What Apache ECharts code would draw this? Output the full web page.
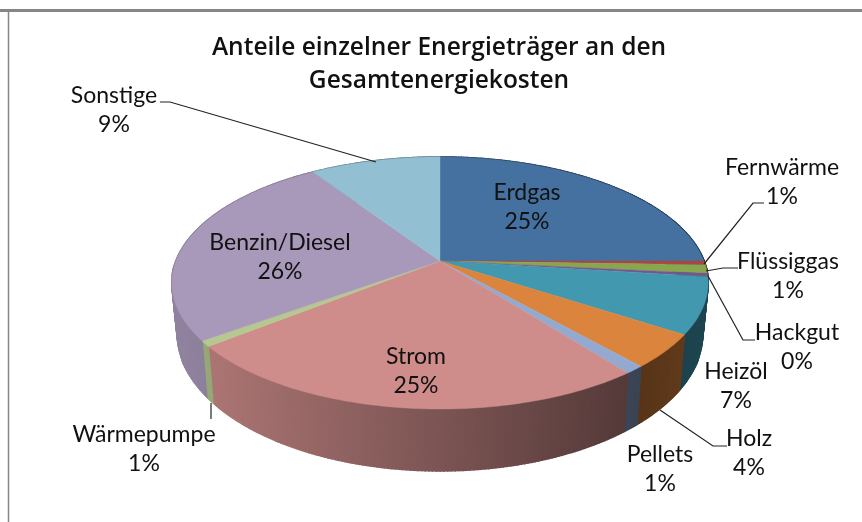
<!DOCTYPE html>
<html><head><meta charset="utf-8">
<style>html,body{margin:0;padding:0;background:#fff}#c{width:862px;height:522px}</style>
<script src="https://cdn.jsdelivr.net/npm/echarts@6/dist/echarts.min.js"></script>
</head><body><div id="c"></div>
<script>
// Data
const titleLines = ['Anteile einzelner Energieträger an den', 'Gesamtenergiekosten'];
const categories = ['Erdgas','Fernwärme','Flüssiggas','Hackgut','Heizöl','Holz','Pellets','Strom','Wärmepumpe','Benzin/Diesel','Sonstige'];
const shares = [25.0, 0.5, 1.1, 0.4, 7.2, 4.3, 1.0, 24.8, 0.7, 25.7, 9.3];
const colors = ['#44719f','#aa4643','#89a54e','#71588f','#4198af','#db843d','#93a9cf','#ce8d8b','#b4c88f','#a898b9','#92c0d2'];

// Layout (perspective pie projection and label placement)
const P = {cx:440, cy:261, R:264, K:122.2, p:0.1746, bx:0.98, by:1.09, bh:48.5};
const labelPos = [[527,207],[782,182],[788,276],[797,347],[736,386],[749,453],[660,469],[416,371],[144,449],[280,257],[114,110]];
const leaders = [
  [[160,102],[170,102],[376,162]],
  [[704,264],[753,203],[764,203]],
  [[706,271],[723,268],[738,268]],
  [[708,276],[743,340],[755,340]],
  [[660,410],[713,446],[727,446]],
  [[211,403],[211,419]]
];
const FONT = 'Lato';
const SIZE = 23;

function rim(theta){
  const c = Math.cos(theta), s = Math.sin(theta), k = 1/(1+P.p*c);
  return [P.cx + P.R*s*k, P.cy - P.K*c*k];
}
function lower(pt){
  return [P.cx + P.bx*(pt[0]-P.cx), P.cy + P.by*(pt[1]-P.cy) + P.bh];
}
function shade(hex, x){
  const t = Math.min(1, Math.max(0, (x-180)/460));
  const f = x > 640 ? 0.40 + (x-640)/65*0.06 : 0.86 - 0.46*t;
  const n = parseInt(hex.slice(1),16);
  const ch = [n>>16&255, n>>8&255, n&255].map(v=>Math.round(v*f));
  return 'rgb('+ch.join(',')+')';
}
const total = shares.reduce((a,b)=>a+b,0);
const starts = shares.map((_,i)=>shares.slice(0,i).reduce((a,b)=>a+b,0));
function arc(i){
  const a0 = starts[i]/total*2*Math.PI, a1 = (starts[i]+shares[i])/total*2*Math.PI;
  const n = Math.max(2, Math.ceil((a1-a0)/0.012));
  const pts = [];
  for(let k=0;k<=n;k++) pts.push(rim(a0+(a1-a0)*k/n));
  return pts;
}
function renderWall(params, api){
  const i = api.value(0), pts = arc(i), children = [];
  for(let k=0;k<pts.length-1;k++){
    const a=pts[k], b=pts[k+1], col=shade(colors[i],(a[0]+b[0])/2);
    children.push({type:'polygon',shape:{points:[a,b,lower(b),lower(a)]},style:{fill:col,stroke:col,lineWidth:1.6}});
  }
  return {type:'group',children};
}
function renderTop(params, api){
  const i = api.value(0), pts = arc(i);
  return {type:'polygon',shape:{points:[[P.cx,P.cy]].concat(pts)},style:{fill:colors[i],stroke:colors[i],lineWidth:0.4}};
}
const seriesData = shares.map((v,i)=>[i,v]);
const graphics = [
  {type:'line',shape:{x1:0,y1:10.5,x2:862,y2:10.5},style:{stroke:'#868686',lineWidth:3},z:1},
  {type:'line',shape:{x1:8.5,y1:9,x2:8.5,y2:522},style:{stroke:'#868686',lineWidth:1.5},z:1}
];
titleLines.forEach((t,i)=>graphics.push({type:'text',x:439,y:48+i*33,z:5,
  style:{text:t,font:'600 24.5px "Open Sans"',fill:'#111',align:'center',verticalAlign:'middle'}}));
leaders.forEach(l=>graphics.push({type:'polyline',z:4,shape:{points:l},style:{stroke:'#222',lineWidth:1.2,fill:null}}));
categories.forEach((c,i)=>graphics.push({type:'text',x:labelPos[i][0],y:labelPos[i][1],z:6,
  style:{text:c+'\n'+Math.round(shares[i])+'%',font:SIZE+'px '+FONT,fill:'#111',align:'center',verticalAlign:'middle',lineHeight:29}}));

const chart = echarts.init(document.getElementById('c'),null,{renderer:'canvas'});
chart.setOption({
  animation:false,
  backgroundColor:'#fff',
  graphic:graphics,
  series:[
    {type:'custom',coordinateSystem:'none',name:'walls',z:2,silent:true,data:seriesData,renderItem:renderWall},
    {type:'custom',coordinateSystem:'none',name:'tops',z:3,silent:true,data:seriesData,renderItem:renderTop}
  ]
});
</script></body></html>
